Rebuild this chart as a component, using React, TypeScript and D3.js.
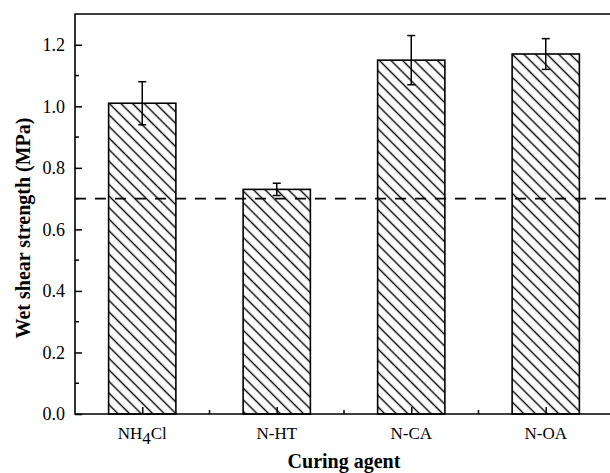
import React, { useEffect, useRef } from "react";
import * as d3 from "d3";

const categories = ["NH4Cl", "N-HT", "N-CA", "N-OA"];
const strength = [1.01, 0.73, 1.15, 1.17];
const errors = [0.07, 0.02, 0.08, 0.05];
const yTicks = [0.0, 0.2, 0.4, 0.6, 0.8, 1.0, 1.2];
const threshold = 0.7;

export default function App() {
  const svgRef = useRef<SVGSVGElement>(null);

  useEffect(() => {
    const width = 610;
    const height = 473;
    const margin = { top: 14, left: 75, bottom: 59 };

    const svg = d3.select(svgRef.current);
    svg.selectAll("*").remove();
    svg.attr("width", width).attr("height", height);

    const font = "'Liberation Serif', 'Times New Roman', serif";

    const x = d3.scaleLinear().domain([0.5, 4.5]).range([margin.left, 613]);
    const y = d3
      .scaleLinear()
      .domain([0, 1.3])
      .range([height - margin.bottom, margin.top]);

    // hatch pattern, lines running top-left to bottom-right
    const defs = svg.append("defs");
    const pat = defs
      .append("pattern")
      .attr("id", "hatch")
      .attr("patternUnits", "userSpaceOnUse")
      .attr("width", 8.2)
      .attr("height", 8.2)
      .attr("patternTransform", "rotate(45)");
    pat.append("rect").attr("width", 8.2).attr("height", 8.2).attr("fill", "white");
    pat
      .append("line")
      .attr("x1", 0)
      .attr("y1", 4.1)
      .attr("x2", 8.2)
      .attr("y2", 4.1)
      .attr("stroke", "#000")
      .attr("stroke-width", 1.4);

    const barW = x(1.25) - x(0.75);

    svg
      .append("g")
      .selectAll("rect")
      .data(strength)
      .join("rect")
      .attr("x", (d, i) => x(i + 1) - barW / 2)
      .attr("y", (d) => y(d))
      .attr("width", barW)
      .attr("height", (d) => y(0) - y(d))
      .attr("fill", "url(#hatch)")
      .attr("stroke", "#000")
      .attr("stroke-width", 1.6);

    // error bars
    const eb = svg.append("g").attr("stroke", "#000").attr("stroke-width", 1.5);
    strength.forEach((v, i) => {
      const cx = x(i + 1);
      eb.append("line")
        .attr("x1", cx)
        .attr("x2", cx)
        .attr("y1", y(v + errors[i]))
        .attr("y2", y(v - errors[i]));
      [v + errors[i], v - errors[i]].forEach((e) => {
        eb.append("line")
          .attr("x1", cx - 4)
          .attr("x2", cx + 4)
          .attr("y1", y(e))
          .attr("y2", y(e));
      });
    });

    // dashed threshold line
    svg
      .append("line")
      .attr("x1", margin.left)
      .attr("x2", width)
      .attr("y1", y(threshold))
      .attr("y2", y(threshold))
      .attr("stroke", "#000")
      .attr("stroke-width", 1.8)
      .attr("stroke-dasharray", "11,9");

    // y axis
    const yAxis = svg
      .append("g")
      .attr("transform", `translate(${margin.left},0)`)
      .call(
        d3
          .axisLeft(y)
          .tickValues(yTicks)
          .tickSize(-7)
          .tickPadding(10)
          .tickFormat(d3.format(".1f"))
      );
    yAxis.select(".domain").remove();
    yAxis.selectAll("line").attr("stroke", "#000").attr("stroke-width", 1.5);
    yAxis
      .selectAll("text")
      .attr("font-family", font)
      .attr("font-size", 18)
      .attr("fill", "#000");
    yAxis
      .selectAll(".minor")
      .data(d3.range(0.1, 1.3, 0.2))
      .join("line")
      .attr("x1", 0)
      .attr("x2", 4)
      .attr("y1", (d) => y(d))
      .attr("y2", (d) => y(d))
      .attr("stroke", "#000")
      .attr("stroke-width", 1.5);

    // x axis
    const xAxis = svg
      .append("g")
      .attr("transform", `translate(0,${y(0)})`)
      .call(
        d3
          .axisBottom(x)
          .tickValues([1, 2, 3, 4])
          .tickSize(-7)
          .tickFormat(() => "")
      );
    xAxis.select(".domain").remove();
    xAxis.selectAll("line").attr("stroke", "#000").attr("stroke-width", 1.5);
    xAxis
      .selectAll(".minor")
      .data([1.5, 2.5, 3.5])
      .join("line")
      .attr("x1", (d) => x(d))
      .attr("x2", (d) => x(d))
      .attr("y1", 0)
      .attr("y2", -4)
      .attr("stroke", "#000")
      .attr("stroke-width", 1.5);

    const labels = xAxis
      .selectAll(".lbl")
      .data(categories)
      .join("text")
      .attr("x", (d, i) => x(i + 1))
      .attr("y", 25)
      .attr("text-anchor", "middle")
      .attr("font-family", font)
      .attr("font-size", 17)
      .attr("fill", "#000");
    labels.each(function (d) {
      const t = d3.select(this);
      if (d === "NH4Cl") {
        t.append("tspan").text("NH");
        t.append("tspan").attr("dy", 5).text("4");
        t.append("tspan").attr("dy", -5).text("Cl");
      } else {
        t.text(d);
      }
    });

    // frame
    svg
      .append("path")
      .attr("d", `M${width},${margin.top}H${margin.left}V${y(0)}H${width}`)
      .attr("fill", "none")
      .attr("stroke", "#000")
      .attr("stroke-width", 1.6);

    // axis titles
    svg
      .append("text")
      .attr("x", (margin.left + 613) / 2)
      .attr("y", 468)
      .attr("text-anchor", "middle")
      .attr("font-family", font)
      .attr("font-weight", "bold")
      .attr("font-size", 20)
      .text("Curing agent");

    svg
      .append("text")
      .attr("transform", `translate(30,228) rotate(-90)`)
      .attr("text-anchor", "middle")
      .attr("font-family", font)
      .attr("font-weight", "bold")
      .attr("font-size", 20)
      .text("Wet shear strength (MPa)");
  }, []);

  return (
    <svg
      ref={svgRef}
      style={{ position: "absolute", left: 0, top: 0, background: "#fff" }}
    />
  );
}
